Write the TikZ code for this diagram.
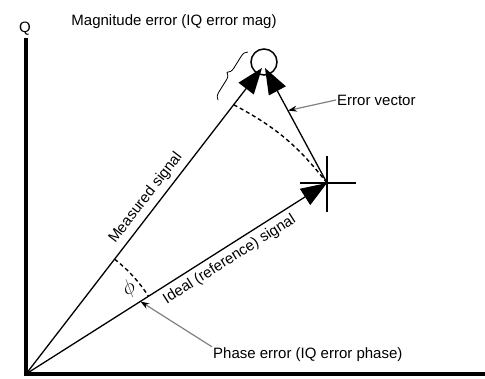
\documentclass[tikz,border=0pt]{standalone}
\usepackage{fontspec}
\setmainfont{Liberation Sans}
\usetikzlibrary{arrows.meta, calc, decorations.pathreplacing}
\tikzset{
  axis/.style={line width=3.5pt},
  vec/.style={line width=1.3pt, -{Triangle[length=26pt, width=19pt]}},
  guide/.style={line width=1.4pt, dash pattern=on 4pt off 3pt},
  callout/.style={draw=gray, line width=1.2pt,
                  -{Stealth[length=9pt, width=6pt, color=black]}},
  lbl/.style={font=\fontsize{15}{17}\selectfont, inner sep=1pt},
}

\begin{document}
\begin{tikzpicture}[x=1pt, y=-1pt]
  \useasboundingbox (0,0) rectangle (485,378);
  \coordinate (O) at (26,374);
  \coordinate (M) at (262,68);
  \coordinate (E) at (265,68);
  \coordinate (R) at (327,183);
  \coordinate (qtop) at (26,38);
  \coordinate (iend) at (485,374);

  % axes
  \draw[axis] (qtop) -- (O) -- (iend);
  \node[lbl] (q) at (25,29) {Q};

  % vectors
  \draw[vec] (O) -- node[lbl, sloped, above=4pt, pos=0.55] (meas) {Measured signal} (M);
  \draw[vec] (O) -- node[lbl, sloped, below=4pt, pos=0.654] (ideal) {Ideal (reference) signal} (R);
  \draw[vec] (R) -- (E);

  % target point and magnitude circle
  \draw[line width=2pt] ($(R)+(-27,0)$) -- ($(R)+(29,0)$);
  \draw[line width=2pt] ($(R)+(0,-27)$) -- ($(R)+(0,29)$);
  \node[circle, draw, line width=1.5pt, minimum size=26pt, inner sep=0pt] (mag) at (264,62) {};
  \draw[decorate, decoration={brace, amplitude=7pt, mirror}, line width=0.8pt]
    (248,52) -- (218,100);

  % angle guides
  \draw[guide] ($(O)!0.88!(M)$) to[bend left=12] (R);
  \draw[guide] ($(O)!145pt!(M)$) arc[start angle=-52.4, end angle=-32.4, radius=145];
  \node[lbl, rotate=35, font=\fontsize{20}{20}\selectfont] (phi) at (129,289) {$\phi$};

  % labels
  \node[lbl] (magerr) at (174,22) {Magnitude error (IQ error mag)};
  \node[lbl, anchor=west] (err) at (336,100) {Error vector};
  \node[lbl, anchor=west] (phase) at (212,355) {Phase error (IQ error phase)};
  \draw[callout] (err.west) -- ($(R)!0.63!(E)$);
  \draw[callout] (phase.north west) -- ($(O)!0.38!(R)$);
\end{tikzpicture}
\end{document}
